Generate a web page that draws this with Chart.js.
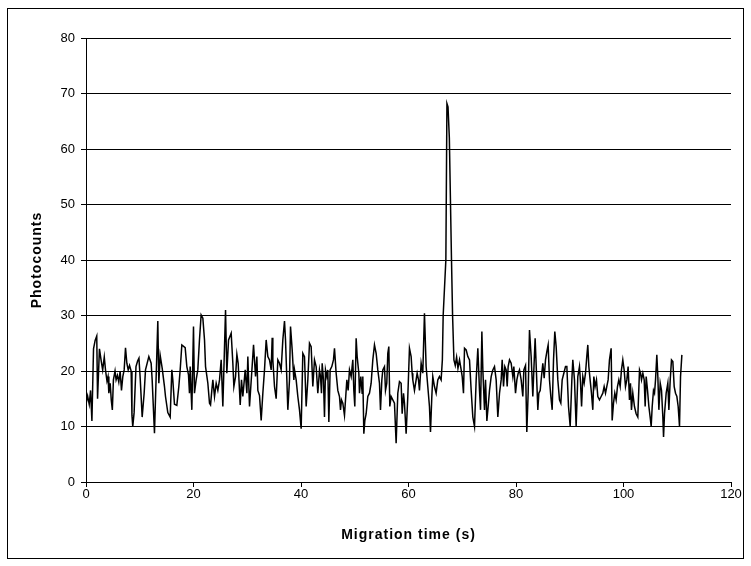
<!DOCTYPE html>
<html>
<head>
<meta charset="utf-8">
<title>Photocounts vs migration time</title>
<script src="https://cdn.jsdelivr.net/npm/chart.js@4.4.1/dist/chart.umd.min.js"></script>
<style>
  html, body { margin: 0; padding: 0; background: #fff; }
  canvas { display: block; }
</style>
</head>
<body>
<canvas id="trace" width="751" height="566"></canvas>
<script>
// detector trace: migration time (s) and photocounts per bin
const migrationTime = [
  0.0, 0.3, 0.6, 0.85, 1.1, 1.4, 1.7, 2.0, 2.15, 2.5, 2.8, 3.1, 3.4, 3.65, 3.9, 4.1, 4.25, 4.5, 4.7, 4.9,
  5.1, 5.4, 5.6, 5.85, 6.1, 6.35, 6.6, 6.85, 7.1, 7.35, 7.6, 7.85, 8.1, 8.4, 8.55, 8.7, 8.95, 9.3, 9.6, 9.85,
  10.1, 10.45, 10.82, 11.07, 11.69, 12.12, 12.31, 12.74, 13.36, 13.55, 13.8, 14.17, 14.6, 14.79, 15.22, 15.66, 15.97, 16.15, 16.46, 16.9,
  17.27, 17.52, 17.83, 18.45, 18.76, 19.07, 19.25, 19.38, 19.69, 20.0, 20.18, 20.49, 20.8, 21.11, 21.42, 21.74, 22.05, 22.24, 22.67, 22.98,
  23.17, 23.41, 23.6, 23.91, 24.22, 24.53, 24.84, 25.15, 25.46, 25.96, 26.2, 26.52, 27.01, 27.32, 27.51, 27.82, 28.07, 28.31, 28.69, 28.93,
  29.18, 29.62, 29.93, 30.11, 30.42, 31.17, 31.54, 31.79, 31.97, 32.28, 32.59, 32.9, 33.21, 33.52, 33.83, 34.14, 34.45, 34.64, 34.76, 35.07,
  35.38, 35.69, 36.0, 36.31, 36.62, 36.93, 37.12, 37.37, 37.55, 37.86, 38.05, 38.36, 38.67, 38.79, 39.1, 39.41, 39.72, 40.03, 40.34, 40.65,
  40.96, 41.27, 41.58, 41.89, 42.2, 42.51, 42.82, 43.13, 43.44, 43.63, 43.81, 43.94, 44.18, 44.37, 44.56, 44.8, 44.99, 45.18, 45.42, 45.73,
  46.04, 46.23, 46.54, 46.85, 47.16, 47.35, 47.53, 47.78, 48.09, 48.28, 48.53, 48.77, 49.02, 49.33, 49.64, 49.83, 50.01, 50.26, 50.45, 50.76,
  50.88, 51.13, 51.38, 51.5, 51.69, 51.87, 52.12, 52.43, 52.74, 53.05, 53.36, 53.67, 53.98, 54.29, 54.6, 54.79, 55.04, 55.22, 55.53, 55.72,
  55.96, 56.15, 56.34, 56.52, 56.77, 57.08, 57.39, 57.7, 58.01, 58.32, 58.63, 58.82, 59.07, 59.25, 59.56, 59.87, 60.18, 60.49, 60.68, 60.8,
  61.11, 61.42, 61.61, 61.86, 62.04, 62.35, 62.66, 62.97, 63.28, 63.59, 63.9, 64.09, 64.34, 64.52, 64.83, 65.14, 65.45, 65.76, 66.07, 66.3,
  66.45, 66.95, 67.15, 67.35, 67.6, 68.0, 68.2, 68.45, 68.7, 68.95, 69.2, 69.49, 69.8, 69.99, 70.23, 70.42, 70.73, 71.04, 71.35, 71.66,
  71.97, 72.28, 72.59, 72.9, 73.21, 73.4, 73.65, 73.83, 74.14, 74.33, 74.58, 74.82, 75.07, 75.38, 75.69, 76.0, 76.31, 76.62, 76.93, 77.24,
  77.43, 77.68, 77.92, 78.17, 78.36, 78.54, 78.79, 79.1, 79.41, 79.6, 79.91, 80.16, 80.41, 80.65, 80.96, 81.27, 81.46, 81.77, 82.01, 82.26,
  82.51, 82.82, 83.13, 83.32, 83.56, 83.81, 84.06, 84.25, 84.5, 84.68, 84.99, 85.24, 85.49, 85.74, 85.98, 86.23, 86.48, 86.73, 86.98, 87.22,
  87.47, 87.78, 88.09, 88.34, 88.59, 88.9, 89.21, 89.46, 89.77, 90.08, 90.39, 90.57, 90.88, 91.19, 91.5, 91.81, 92.0, 92.2, 92.43, 92.68,
  92.93, 93.17, 93.36, 93.55, 93.79, 94.04, 94.29, 94.48, 94.72, 94.97, 95.22, 95.53, 95.84, 96.15, 96.4, 96.65, 96.89, 97.14, 97.39, 97.7,
  97.89, 98.14, 98.38, 98.63, 98.88, 99.13, 99.38, 99.62, 99.87, 100.12, 100.37, 100.62, 100.86, 101.11, 101.3, 101.48, 101.73, 102.04, 102.35, 102.66,
  102.98, 103.17, 103.35, 103.6, 103.85, 104.03, 104.22, 104.47, 104.72, 104.96, 105.15, 105.34, 105.58, 105.77, 105.96, 106.2, 106.39, 106.58, 106.83, 107.07,
  107.32, 107.45, 107.63, 107.94, 108.25, 108.44, 108.69, 108.93, 109.18, 109.43, 109.68, 109.93, 110.17, 110.42, 110.61, 110.86
];

const photocounts = [
  14, 15.5, 14, 16.5, 11, 24, 25.5, 26.3, 15, 24, 22, 20.2, 22.5, 20, 18.2, 19, 16, 17.8, 14.8, 13,
  18.4, 20, 18.4, 19.2, 18, 20, 16.5, 19, 20.2, 24.2, 21.4, 20.2, 21, 20, 12, 10, 12.5, 20.8, 21.8, 22.3,
  18.4, 11.7, 16, 20.2, 22.6, 21.4, 18.4, 8.8, 29, 17.8, 22.8, 20.5, 17.2, 15.4, 12.5, 11.7, 20.2, 18.4, 14, 13.8,
  17.2, 20.2, 24.7, 24.2, 20.8, 19.3, 16, 20.8, 13, 28, 16, 18.4, 20.2, 25.6, 30.1, 29.5, 25.6, 20.8, 17.8, 14.2,
  13.9, 16.5, 18.4, 15.4, 17.8, 16.5, 18.4, 22, 13.6, 31, 19.6, 25.6, 26.8, 21.4, 17.2, 19, 23, 21.4, 13.9, 18.4,
  15.4, 20.2, 16, 22.6, 13.6, 24.7, 19, 22.6, 16.5, 15.6, 11.1, 16, 20.2, 25.6, 22.6, 22, 20.2, 26, 22, 17.2,
  15, 22, 21.4, 20.2, 25.6, 29, 25.6, 18.4, 13, 18.4, 28, 23.8, 18.4, 20.2, 18.4, 15.4, 13, 9.6, 23.2, 22.6,
  13.6, 18.4, 25, 24.4, 17.2, 22, 20.8, 16, 20.2, 19, 16, 21.4, 18.4, 11.7, 20.2, 19, 20.2, 10.8, 20.2, 20.8,
  22, 24.1, 19.6, 16.5, 15.4, 13, 14.8, 14.2, 12, 14.8, 18.4, 16.5, 20.2, 19, 22, 16.5, 13.6, 25.9, 22.6, 19.6,
  16, 19, 16, 19, 8.7, 11, 12.3, 15.4, 16, 17.8, 22, 24.7, 23.2, 20.2, 17.8, 13, 18.4, 20.2, 20.8, 16.5,
  17.8, 23.2, 24.4, 13.6, 15.4, 14.8, 14.2, 7, 16, 18.1, 17.8, 12.3, 16, 14.2, 8.7, 15.4, 24.1, 22.6, 19.6, 18.4,
  16.5, 18.4, 19.6, 18.4, 16.5, 21.4, 19.6, 30.4, 20.8, 17.2, 13.6, 9, 15.4, 19, 17.2, 16, 18.4, 19, 18.4, 22,
  30, 40, 68.2, 67.6, 62, 40, 30, 22, 21, 22.5, 20.5, 22, 20.2, 19, 16, 24.1, 23.8, 22.6, 22, 16.5,
  11.7, 10, 18.4, 24.1, 16.5, 13, 27.1, 20.2, 13, 18.4, 11, 13.6, 16.5, 19, 20.2, 20.8, 18.4, 11.7, 16, 18.4,
  22, 17.2, 20.8, 20.2, 17.2, 20.8, 22, 21.4, 19, 20.8, 16, 18.4, 19.6, 20.2, 18.4, 15.4, 20.2, 21, 9, 16,
  27.4, 22.6, 15.4, 20.2, 25.9, 19.6, 13, 16, 16.5, 18.4, 21.4, 18.7, 22, 23.5, 24.7, 18.4, 15.4, 13, 22, 27.1,
  24.4, 18.4, 14.8, 14.2, 18.4, 19.6, 20.8, 20.8, 13.6, 10, 18.4, 22, 18.4, 10, 19, 20.8, 18, 13.6, 19, 17.8,
  19.6, 22.6, 24.7, 20.8, 18.4, 16, 13, 19, 17.2, 18.4, 15.4, 14.8, 15.4, 16, 17.2, 16, 17.2, 18.4, 22, 24.1,
  11.1, 14.2, 16, 14.8, 17.2, 18.4, 17.2, 20.2, 22, 20.2, 17.2, 18.4, 20.8, 14.8, 17.8, 13, 16, 13.6, 12.3, 11.7,
  20.2, 19.6, 18.4, 19.6, 18.4, 13.6, 19, 16.5, 13.6, 11.7, 10, 13.6, 16.5, 16, 18.4, 22.9, 19, 13, 17.8, 16.5,
  11.7, 8.1, 12.3, 16, 17.8, 13, 18.4, 22, 21.7, 17.2, 16, 15.4, 13.6, 10, 19, 22.9
];

const xTicks = [0, 20, 40, 60, 80, 100, 120];
const yTicks = [0, 10, 20, 30, 40, 50, 60, 70, 80];

const points = migrationTime.map((t, i) => ({ x: t, y: photocounts[i] }));

// white page with a thin black frame round the whole chart;
// axis titles get a little letter spacing, tick labels (drawn later, z=1) none
const frame = {
  id: 'frame',
  beforeDraw(chart) {
    const c = chart.ctx;
    c.save();
    c.fillStyle = '#fff';
    c.fillRect(0, 0, chart.width, chart.height);
    c.strokeStyle = '#000';
    c.lineWidth = 1;
    c.strokeRect(7.5, 8.5, 736, 550);
    c.restore();
    c.letterSpacing = '1px';
  },
  beforeDatasetsDraw(chart) {
    chart.ctx.letterSpacing = '0px';
  }
};

const tickFont = { family: 'Liberation Sans, Arial, sans-serif', size: 13 };
const titleFont = { family: 'Liberation Sans, Arial, sans-serif', size: 14, weight: 'bold' };

new Chart(document.getElementById('trace'), {
  type: 'line',
  data: {
    datasets: [{
      label: 'Photocounts',
      data: points,
      borderColor: '#000',
      borderWidth: 1.5,
      pointRadius: 0,
      tension: 0,
      fill: false
    }]
  },
  options: {
    responsive: false,
    animation: false,
    layout: { padding: { left: 8, right: 20, top: 38, bottom: 8 } },
    plugins: { legend: { display: false }, tooltip: { enabled: false } },
    scales: {
      x: {
        type: 'linear',
        min: 0,
        max: 120,
        afterBuildTicks: s => { s.ticks = xTicks.map(v => ({ value: v })); },
        afterFit: s => { s.height = 76; },
        grid: { drawOnChartArea: false, color: '#000', tickLength: 5 },
        border: { color: '#000' },
        ticks: { color: '#000', font: tickFont, padding: 0, maxRotation: 0, z: 1 },
        title: { display: true, text: 'Migration time (s)', color: '#000', font: titleFont, padding: { bottom: 14 } }
      },
      y: {
        min: 0,
        max: 80,
        afterBuildTicks: s => { s.ticks = yTicks.map(v => ({ value: v })); },
        afterFit: s => { s.width = 78; },
        grid: { color: '#000', tickLength: 5 },
        border: { color: '#000' },
        ticks: { color: '#000', font: tickFont, padding: 6, z: 1 },
        title: { display: true, text: 'Photocounts', color: '#000', font: titleFont, padding: { top: 21 } }
      }
    }
  },
  plugins: [frame]
});
</script>
</body>
</html>
